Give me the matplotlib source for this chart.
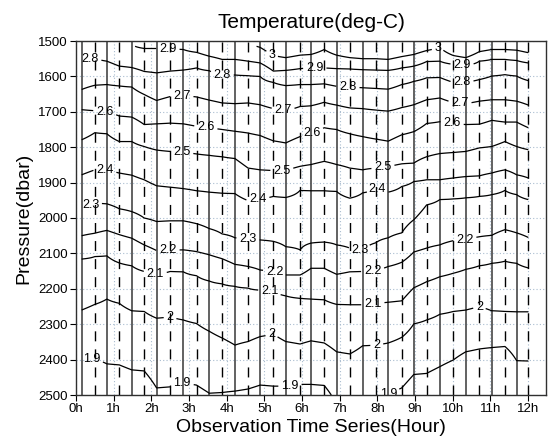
import numpy as np
import matplotlib
matplotlib.use("Agg")
import matplotlib.pyplot as plt

plt.rcParams['font.family'] = ['Liberation Sans', 'DejaVu Sans']

# cast times (hour); even index = solid line, odd index = dashed line
cast_hours = [0.15, 0.50, 0.82, 1.15, 1.48, 1.81, 2.14, 2.50, 2.85, 3.20,
              3.54, 3.88, 4.22, 4.57, 4.89, 5.24, 5.57, 5.95, 6.24, 6.59,
              6.92, 7.27, 7.61, 7.96, 8.29, 8.65, 8.97, 9.31, 9.66, 10.02,
              10.35, 10.71, 11.04, 11.39, 11.70, 12.01]

# pressure (dbar) of each isotherm at each cast
iso_30 = [1480, 1482, 1485, 1488, 1490, 1492, 1495, 1497, 1498, 1500,
          1502, 1504, 1505, 1507, 1518, 1541, 1547, 1540, 1538, 1524,
          1540, 1547, 1550, 1550, 1552, 1544, 1538, 1527, 1518, 1541,
          1547, 1530, 1524, 1524, 1526, 1533]
iso_29 = [1495, 1497, 1500, 1505, 1510, 1521, 1521, 1521, 1524, 1532,
          1543, 1552, 1552, 1557, 1562, 1585, 1583, 1578, 1576, 1576,
          1578, 1579, 1581, 1582, 1583, 1576, 1571, 1558, 1557, 1566,
          1569, 1557, 1552, 1552, 1555, 1562]
iso_28 = [1548, 1550, 1557, 1571, 1575, 1586, 1590, 1585, 1582, 1576,
          1584, 1595, 1596, 1598, 1600, 1617, 1626, 1623, 1623, 1621,
          1628, 1630, 1632, 1634, 1636, 1623, 1614, 1604, 1603, 1617,
          1617, 1609, 1599, 1595, 1599, 1612]
iso_27 = [1637, 1625, 1623, 1627, 1630, 1651, 1668, 1657, 1654, 1658,
          1667, 1675, 1677, 1675, 1680, 1691, 1697, 1685, 1683, 1673,
          1681, 1689, 1691, 1695, 1698, 1688, 1680, 1666, 1661, 1674,
          1677, 1670, 1666, 1666, 1670, 1681]
iso_26 = [1694, 1697, 1701, 1712, 1715, 1736, 1734, 1732, 1734, 1741,
          1745, 1750, 1755, 1760, 1767, 1782, 1788, 1770, 1762, 1745,
          1750, 1762, 1770, 1777, 1783, 1765, 1756, 1733, 1728, 1733,
          1736, 1735, 1724, 1729, 1729, 1745]
iso_25 = [1779, 1759, 1762, 1784, 1784, 1798, 1808, 1812, 1813, 1819,
          1823, 1827, 1832, 1859, 1864, 1866, 1866, 1854, 1849, 1840,
          1849, 1859, 1864, 1859, 1855, 1847, 1845, 1827, 1818, 1815,
          1812, 1802, 1798, 1784, 1798, 1807]
iso_24 = [1878, 1864, 1864, 1873, 1879, 1892, 1909, 1913, 1917, 1923,
          1927, 1930, 1931, 1951, 1946, 1939, 1942, 1922, 1923, 1923,
          1925, 1944, 1929, 1915, 1927, 1911, 1897, 1892, 1892, 1887,
          1883, 1881, 1873, 1864, 1878, 1887]
iso_23 = [1971, 1958, 1960, 1974, 1982, 2000, 2010, 2008, 2008, 2016,
          2030, 2045, 2056, 2059, 2062, 2066, 2081, 2090, 2071, 2068,
          2076, 2085, 2093, 2070, 2056, 2042, 2005, 1963, 1948, 1946,
          1943, 1939, 1934, 1922, 1934, 1948]
iso_22 = [2050, 2043, 2035, 2047, 2057, 2076, 2092, 2091, 2090, 2095,
          2104, 2115, 2131, 2137, 2147, 2151, 2161, 2161, 2142, 2142,
          2159, 2152, 2151, 2148, 2137, 2125, 2096, 2085, 2076, 2064,
          2062, 2053, 2049, 2033, 2042, 2055]
iso_21 = [2116, 2109, 2107, 2127, 2135, 2151, 2158, 2151, 2152, 2163,
          2178, 2186, 2193, 2198, 2204, 2206, 2220, 2227, 2229, 2231,
          2244, 2245, 2245, 2241, 2238, 2234, 2197, 2180, 2166, 2156,
          2145, 2135, 2128, 2122, 2128, 2141]
iso_20 = [2260, 2244, 2229, 2241, 2262, 2264, 2283, 2279, 2288, 2298,
          2320, 2339, 2359, 2349, 2335, 2328, 2349, 2356, 2347, 2353,
          2378, 2384, 2361, 2359, 2353, 2337, 2299, 2288, 2272, 2264,
          2260, 2250, 2262, 2264, 2265, 2265]
iso_19 = [2398, 2398, 2412, 2415, 2429, 2432, 2480, 2477, 2466, 2472,
          2495, 2493, 2489, 2483, 2472, 2475, 2475, 2470, 2470, 2473,
          2525, 2530, 2530, 2525, 2498, 2480, 2442, 2439, 2420, 2401,
          2378, 2370, 2366, 2363, 2403, 2404]

temp_levels = [1.9, 2.0, 2.1, 2.2, 2.3, 2.4, 2.5, 2.6, 2.7, 2.8, 2.9, 3.0]
iso_depths = [iso_19, iso_20, iso_21, iso_22, iso_23, iso_24,
              iso_25, iso_26, iso_27, iso_28, iso_29, iso_30]

hour_ticks = list(range(13))
hour_labels = ['%dh' % h for h in hour_ticks]
pres_ticks = list(range(1500, 2501, 100))

# where the inline labels sit (hour, dbar)
label_spots = [(9.61, 1518), (5.15, 1547),
               (2.44, 1521), (6.34, 1578), (10.25, 1572),
               (0.37, 1550), (3.88, 1595), (7.22, 1629), (10.25, 1620),
               (2.81, 1654), (5.50, 1697), (10.19, 1682),
               (0.77, 1697), (3.45, 1742), (6.21, 1742), (9.98, 1739),
               (2.81, 1813), (5.47, 1869), (8.15, 1855),
               (0.77, 1861), (4.83, 1948), (8.02, 1914),
               (0.37, 1957), (4.57, 2056), (7.54, 2093),
               (2.44, 2090), (5.28, 2149), (7.88, 2149), (10.33, 2062),
               (2.10, 2160), (5.15, 2200), (7.88, 2240),
               (2.50, 2274), (5.20, 2328), (7.99, 2361), (10.72, 2248),
               (0.42, 2398), (2.81, 2463), (5.68, 2472), (8.28, 2492)]


def cast_temperature(depths, pres):
    # temperature along one cast from its isotherm depths (linear, extended at the ends)
    d = np.asarray(depths, float)[::-1]
    t = np.asarray(temp_levels, float)[::-1]
    out = np.interp(pres, d, t)
    up = pres < d[0]
    out[up] = t[0] + (pres[up] - d[0]) * (t[1] - t[0]) / (d[1] - d[0])
    dn = pres > d[-1]
    out[dn] = t[-1] + (pres[dn] - d[-1]) * (t[-1] - t[-2]) / (d[-1] - d[-2])
    return out


pres = np.linspace(1515, 2500, 1200)
depth_table = np.array(iso_depths)
temp = np.column_stack([cast_temperature(depth_table[:, i], pres)
                        for i in range(len(cast_hours))])

fig = plt.figure(figsize=(5.5, 4.43), dpi=100)
ax = fig.add_axes([76 / 550, 1 - 395 / 443, 470 / 550, 354 / 443])

ax.set_xlim(0, 12.48)
ax.set_ylim(2500, 1500)
ax.set_xticks(hour_ticks)
ax.set_xticklabels(hour_labels)
ax.set_yticks(pres_ticks)
ax.grid(True, color='#a9bccf', linestyle=(0, (1, 2)), linewidth=0.8)
ax.set_axisbelow(True)
ax.tick_params(direction='out', length=4, width=0.8, labelsize=9.5,
               top=False, right=False, pad=2)

for i, h in enumerate(cast_hours):
    if i % 2 == 0:
        ax.axvline(h, color='#555555', linewidth=1.3, zorder=2)
    else:
        ax.axvline(h, color='black', linewidth=1.0,
                   linestyle=(0, (7.2, 5.8)), zorder=2)

cs = ax.contour(cast_hours, pres, temp, levels=temp_levels,
                colors='black', linewidths=0.9, zorder=3)
texts = ax.clabel(cs, fmt='%g', fontsize=9, inline=True, inline_spacing=3,
                  manual=label_spots)
for t in texts:
    t.set_rotation(0)

for s in ax.spines.values():
    s.set_linewidth(1.0)
    s.set_color('#303030')

ax.set_title('Temperature(deg-C)', fontsize=15, pad=9)
ax.set_xlabel('Observation Time Series(Hour)', fontsize=14, labelpad=3)
ax.set_ylabel('Pressure(dbar)', fontsize=14, labelpad=4)

fig.savefig('out.png', dpi=100)
